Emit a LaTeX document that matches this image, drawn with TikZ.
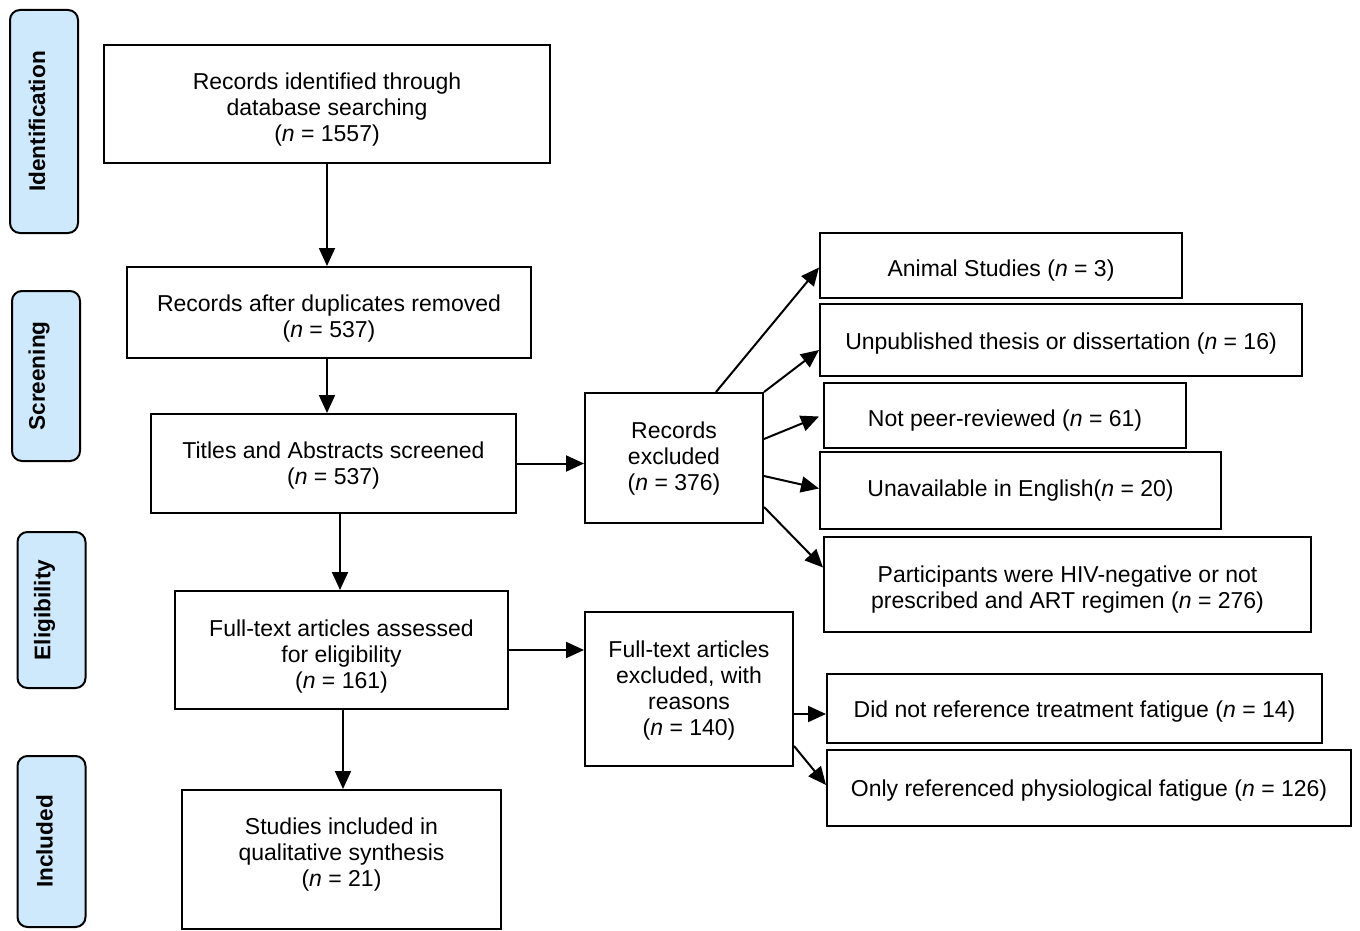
\documentclass[tikz,border=0pt]{standalone}
\usepackage{fontspec}
\setmainfont{Liberation Sans}
\usetikzlibrary{arrows.meta,calc}
\definecolor{lblue}{HTML}{CDE9FB}
\tikzset{
  box/.style={draw=black, line width=1pt, inner sep=0pt},
  txt/.style={align=center, inner sep=0pt, font=\fontsize{11.5}{13}\selectfont},
  stage/.style={draw=black, line width=1pt, fill=lblue, rounded corners=5pt,
    inner sep=0pt},
  stagetxt/.style={rotate=90, inner sep=0pt,
    font=\fontsize{11.3}{13}\selectfont\bfseries},
  arr/.style={line width=1pt, -{Triangle[length=9pt,width=8pt]}}
}
\begin{document}
\begin{tikzpicture}[x=0.5pt,y=-0.5pt]
\useasboundingbox (0,0) rectangle (1360,931);
% stage labels
\node[stage, minimum width=34pt, minimum height=111.5pt] (sid) at (44,121.5) {};
\node[stagetxt] (tid) at ($(sid)+(-7,0)$) {Identification};
\node[stage, minimum width=34pt, minimum height=85pt] (ssc) at (46,376) {};
\node[stagetxt] (tsc) at ($(ssc)+(-7,0)$) {Screening};
\node[stage, minimum width=34pt, minimum height=78pt] (sel) at (51.5,610) {};
\node[stagetxt] (tel) at ($(sel)+(-7,0)$) {Eligibility};
\node[stage, minimum width=34pt, minimum height=85.5pt] (sin) at (51.5,841.5) {};
\node[stagetxt] (tin) at ($(sin)+(-7,0)$) {Included};
% main column
\node[box, minimum width=223pt, minimum height=59pt] (b1) at (327,104) {};
\node[txt] (t1) at ($(b1)+(0,6)$) {Records identified through\\database searching\\(\textit{n} = 1557)};
\node[box, minimum width=202pt, minimum height=45.5pt] (b2) at (329,312.5) {};
\node[txt] (t2) at ($(b2)+(0,6)$) {Records after duplicates removed\\(\textit{n} = 537)};
\node[box, minimum width=182.5pt, minimum height=49.5pt] (b3) at (333.5,463.5) {};
\node[txt] (t3) at ($(b3)+(0,2.5)$) {Titles and Abstracts screened\\(\textit{n} = 537)};
\node[box, minimum width=166.5pt, minimum height=59pt] (b4) at (341.5,650) {};
\node[txt] (t4) at ($(b4)+(0,7)$) {Full-text articles assessed\\for eligibility\\(\textit{n} = 161)};
\node[box, minimum width=159.5pt, minimum height=69.5pt] (b5) at (341.5,859.5) {};
\node[txt] (t5) at ($(b5)+(0,-5)$) {Studies included in\\qualitative synthesis\\(\textit{n} = 21)};
% exclusion boxes
\node[box, minimum width=89pt, minimum height=65pt] (re) at (674,458) {};
\node[txt] (tre) at ($(re)+(0,1)$) {Records\\excluded\\(\textit{n} = 376)};
\node[box, minimum width=104pt, minimum height=77pt] (fte) at (689,689) {};
\node[txt] (tfte) at ($(fte)+(0,2)$) {Full-text articles\\excluded, with\\reasons\\(\textit{n} = 140)};
% reasons
\node[box, minimum width=181pt, minimum height=32.5pt] (r1) at (1001,265.5) {};
\node[txt] (tr1) at ($(r1)+(0,5)$) {Animal Studies (\textit{n} = 3)};
\node[box, minimum width=241pt, minimum height=36pt] (r2) at (1061,340) {};
\node[txt] (tr2) at ($(r2)+(0,4)$) {Unpublished thesis or dissertation (\textit{n} = 16)};
\node[box, minimum width=181pt, minimum height=32.5pt] (r3) at (1005,415.5) {};
\node[txt] (tr3) at ($(r3)+(0,5)$) {Not peer-reviewed (\textit{n} = 61)};
\node[box, minimum width=200.5pt, minimum height=38.5pt] (r4) at (1020.5,490.5) {};
\node[txt] (tr4) at (r4) {Unavailable in English(\textit{n} = 20)};
\node[box, minimum width=243.5pt, minimum height=47.5pt] (r5) at (1067.5,584.5) {};
\node[txt] (tr5) at ($(r5)+(0,5)$) {Participants were HIV-negative or not\\prescribed and ART regimen (\textit{n} = 276)};
\node[box, minimum width=247.5pt, minimum height=34.5pt] (r6) at (1074.5,708.5) {};
\node[txt] (tr6) at ($(r6)+(0,3)$) {Did not reference treatment fatigue (\textit{n} = 14)};
\node[box, minimum width=262pt, minimum height=38pt] (r7) at (1089,788) {};
\node[txt] (tr7) at ($(r7)+(0,3)$) {Only referenced physiological fatigue (\textit{n} = 126)};
% main arrows
\draw[arr] (b1.south) -- (b2.north -| b1.south);
\draw[arr] (b2.south -| b1.south) -- (b3.north -| b1.south);
\draw[arr] ($(b3.south)+(6.5,0)$) coordinate (c3) -- (b4.north -| c3);
\draw[arr] ($(b4.south)+(1.5,0)$) coordinate (c4) -- (b5.north -| c4);
\draw[arr] (b3.east) -- (re.west |- b3.east);
\draw[arr] (b4.east) -- (fte.west |- b4.east);
% records excluded arrows
\draw[arr] ($(re.north)+(42,0)$) -- ($(r1.west)+(0,2)$);
\draw[arr] (re.north east) -- ($(r2.west)+(0,10)$);
\draw[arr] ($(re.north east)+(0,47)$) -- ($(r3.west)+(-4,1)$);
\draw[arr] ($(re.north east)+(0,84)$) -- ($(r4.west)+(0,-2)$);
\draw[arr] ($(re.north east)+(0,115)$) -- ($(r5.west)+(0,-17)$);
% full-text excluded arrows
\draw[arr] ($(fte.east)+(0,25)$) coordinate (f1) -- (r6.west |- f1);
\draw[arr] ($(fte.east)+(0,57)$) -- ($(r7.west)+(0,-3)$);
\end{tikzpicture}
\end{document}
